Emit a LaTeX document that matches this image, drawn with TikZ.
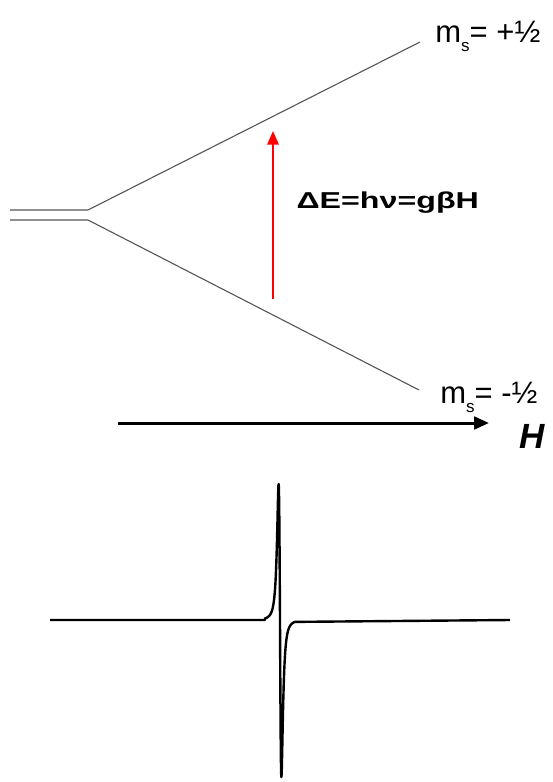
\documentclass[tikz,border=0pt]{standalone}
\usepackage{fontspec}
\setmainfont{Liberation Sans}
\usetikzlibrary{positioning,arrows.meta,calc}
\definecolor{level}{HTML}{555555}
\definecolor{ink}{HTML}{000000}
\definecolor{transred}{HTML}{FF0000}
\tikzset{
  levelline/.style ={draw=level, line width=0.55pt},
  fieldarr/.style  ={-{Triangle[length=2.6mm,width=2.2mm]}, line width=1.5pt, draw=ink},
  transarr/.style  ={-{Triangle[length=2.4mm,width=2.0mm]}, line width=1.1pt, draw=transred},
  spinlbl/.style   ={font=\fontsize{15.5}{17}\selectfont, anchor=base west, inner sep=0pt},
  eqlbl/.style     ={font=\fontsize{11.5}{13}\selectfont\bfseries, anchor=base west, inner sep=0pt,
                     xscale=1.4, transform shape},
  fieldlbl/.style  ={font=\fontsize{17.5}{19}\selectfont\bfseries\itshape, anchor=base west, inner sep=0pt},
  spectrum/.style  ={draw=ink, line width=1.2pt, line join=round},
}
\newcommand{\msub}{m\raisebox{-4.8pt}{\fontsize{8.5}{9}\selectfont s}}
\begin{document}
\begin{tikzpicture}[x=0.5pt, y=-0.5pt,
  declare function={dlor(\x,\a)=\a*2*((\x-280)/2.4)/(1+((\x-280)/2.4)^2)^2/0.6495;}]
\useasboundingbox (0,0) rectangle (552,782);

% zero-field level and Zeeman splitting
\coordinate (zt) at (10,210);
\coordinate (zb) at (10,220);
\coordinate (st) at (88,210);
\coordinate (sb) at (88,220);
\coordinate (up) at (420,42);
\coordinate (dn) at (419,390);
\draw[levelline] (zt) -- (st) -- (up);
\draw[levelline] (zb) -- (sb) -- (dn);

\node[spinlbl] (plus) at (435,42) {\msub= +½};
\node[spinlbl] (minus) at (440,403) {\msub= -½};

% transition
\coordinate (tlo) at (273,299);
\coordinate (thi) at (273,131);
\draw[transarr] (tlo) -- (thi);
\node[eqlbl] (eq) at (296,208) {ΔE=hν=gβH};

% field axis
\coordinate (hstart) at (118,423);
\coordinate (hend) at (489,423);
\draw[fieldarr] (hstart) -- (hend);
\node[fieldlbl] (hlbl) at (519,448) {H};

% derivative spectrum
\coordinate (sl) at (50,620);
\coordinate (sr) at (510,620);
\draw[spectrum] (sl) -- (265,620)
  -- plot[domain=265:280, samples=151] (\x,{620+dlor(\x,136)})
  -- plot[domain=280:295, samples=151] (\x,{620+dlor(\x,157)})
  -- (sr);
\end{tikzpicture}
\end{document}
